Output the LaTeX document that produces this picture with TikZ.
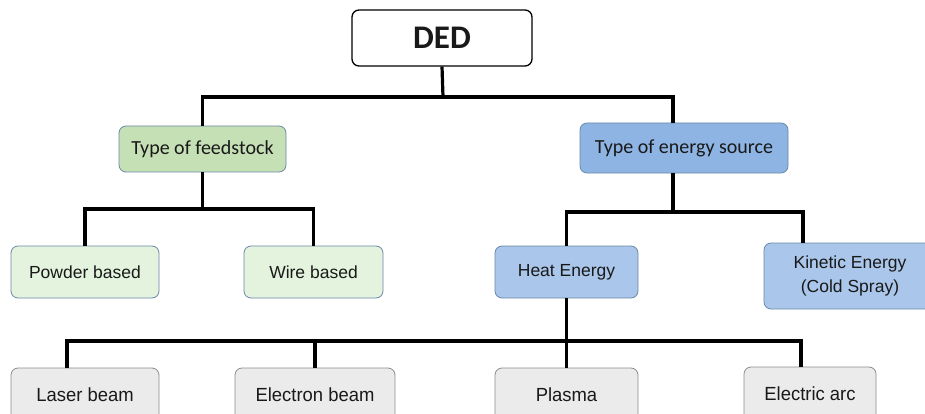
\documentclass[tikz,border=0pt]{standalone}
\usepackage{fontspec}
\setmainfont{Carlito}
\newfontfamily\arialfont{Liberation Sans}
\newfontfamily\narrowfont{Liberation Sans}[FakeStretch=0.97]
\usetikzlibrary{positioning}

\definecolor{feedgreen}{HTML}{C6E0B6}
\definecolor{leafgreen}{HTML}{E3F3DD}
\definecolor{energyblue}{HTML}{8EB4E3}
\definecolor{leafblue}{HTML}{AAC6EA}
\definecolor{leafgray}{HTML}{EBEBEB}
\definecolor{boxedge}{HTML}{6A88A8}
\definecolor{grayedge}{HTML}{8C8C8C}

\tikzset{
  box/.style={draw=boxedge, line width=0.8pt, rounded corners=7pt, inner sep=0pt, align=center, text=black!90},
  topbox/.style={box, draw=black, line width=1.3pt, fill=white, font=\fontsize{33}{36}\selectfont\bfseries},
  midbox/.style={box, font=\fontsize{20}{24}\selectfont},
  leafbox/.style={box, font=\arialfont\fontsize{17.5}{24}\selectfont},
  methodbox/.style={box, draw=grayedge, fill=leafgray, font=\narrowfont\fontsize{19}{22}\selectfont},
  branch/.style={line width=3.2pt},
}

\begin{document}
\begin{tikzpicture}[x=1pt, y=-1pt]
\clip (0,0) rectangle (925,414);

\node[topbox, minimum width=180pt, minimum height=56pt] (ded) at (442,38) {DED};

\node[midbox, fill=feedgreen, minimum width=167pt, minimum height=46pt] (feed) at (202.5,149) {Type of feedstock};
\node[midbox, fill=energyblue, minimum width=208pt, minimum height=50pt] (energy) at (684,148) {Type of energy source};

\node[leafbox, fill=leafgreen, minimum width=148pt, minimum height=52pt] (powder) at (85,272) {Powder based};
\node[leafbox, fill=leafgreen, minimum width=139pt, minimum height=52pt] (wire) at (313.5,272) {Wire based};
\node[leafbox, fill=leafblue, minimum width=143pt, minimum height=52pt] (heat) at (566.5,272) {Heat Energy};
\node[leafbox, fill=leafblue, minimum width=172pt, minimum height=66pt] (kinetic) at (850,276) {Kinetic Energy\\(Cold Spray)};

\node[methodbox, minimum width=148pt, minimum height=54pt] (laser) at (85,395) {Laser beam};
\node[methodbox, minimum width=160pt, minimum height=54pt] (electron) at (315,395) {Electron beam};
\node[methodbox, minimum width=143pt, minimum height=54pt] (plasma) at (566.5,395) {Plasma};
\node[methodbox, minimum width=132pt, minimum height=54pt] (arc) at (810,394) {Electric arc};

% junction points
\coordinate (topbar) at (443,97);
\coordinate (energytop) at (673,123);
\coordinate (feedbar) at (202.5,209);
\coordinate (energybar) at (673,212);
\coordinate (kinetictop) at (803,243);
\coordinate (heatbar) at (566.5,341);
\coordinate (lasertop) at (67,368);
\coordinate (arctop) at (801,367);

\draw[branch] (ded.south) -- (topbar);
\draw[branch] (feed.north) |- (topbar) -| (energytop);

\draw[branch] (feed.south) -- (feedbar);
\draw[branch] (powder.north) |- (feedbar) -| (wire.north);

\draw[branch] (energy.south -| energybar) -- (energybar);
\draw[branch] (heat.north) |- (energybar) -| (kinetictop);

\draw[branch] (heat.south) -- (heatbar);
\draw[branch] (lasertop) |- (heatbar) -| (arctop);
\draw[branch] (electron.north) -- (electron.north |- heatbar);
\draw[branch] (plasma.north) -- (heatbar);

\end{tikzpicture}
\end{document}
